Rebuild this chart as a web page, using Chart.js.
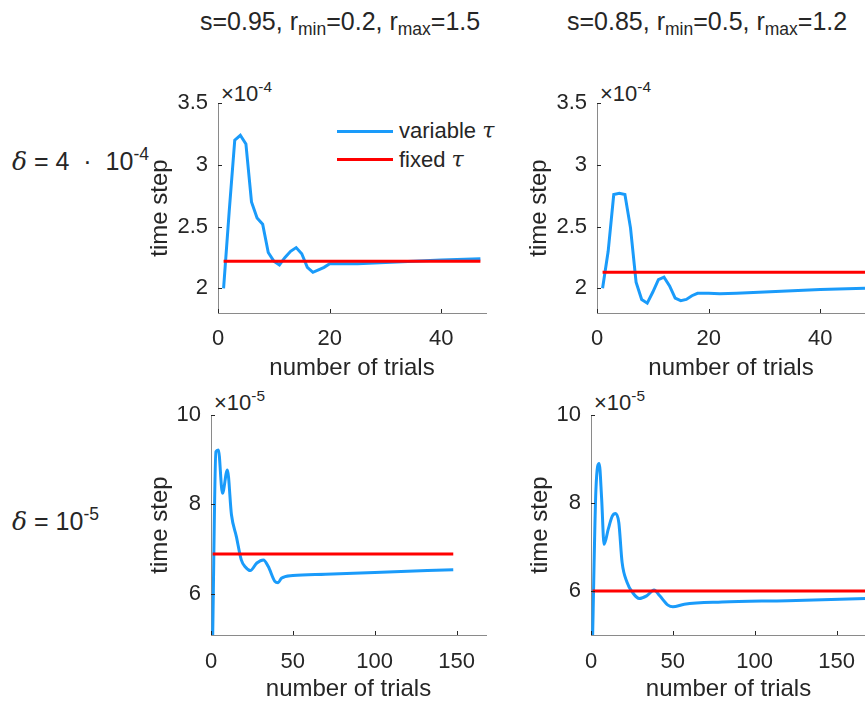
<!DOCTYPE html>
<html>
<head>
<meta charset="utf-8">
<script src="https://cdn.jsdelivr.net/npm/chart.js@4/dist/chart.umd.min.js"></script>
<style>
  html, body { margin: 0; padding: 0; overflow: hidden; }
  body { width: 865px; height: 703px; position: relative; background: #fff;
         font-family: "Liberation Sans", Arial, sans-serif; color: #262626; }
  canvas { position: absolute; }
  .t { position: absolute; white-space: nowrap; line-height: 22px; font-size: 22px; }
  .big { font-size: 25px; }
  sup, sub { font-size: 70%; position: relative; vertical-align: baseline; }
  sup { top: -0.6em; }
  sub { top: 0.3em; }
  .tex { font-family: "DejaVu Serif", serif; font-style: italic; }
  .leg { position: absolute; height: 3px; }
</style>
</head>
<body>

<div class="t big" style="left:200px;top:10px">s=0.95, r<sub>min</sub>=0.2, r<sub>max</sub>=1.5</div>
<div class="t big" style="left:567px;top:10px">s=0.85, r<sub>min</sub>=0.5, r<sub>max</sub>=1.2</div>
<div class="t big" style="left:12px;top:150px"><span class="tex">δ</span> = 4 &nbsp;·&nbsp; 10<sup>-4</sup></div>
<div class="t big" style="left:12px;top:510px"><span class="tex">δ</span> = 10<sup>-5</sup></div>

<div class="t" style="left:221px;top:83px">×10<sup>-4</sup></div>
<div class="t" style="left:600px;top:83px">×10<sup>-4</sup></div>
<div class="t" style="left:214px;top:392px">×10<sup>-5</sup></div>
<div class="t" style="left:594px;top:392px">×10<sup>-5</sup></div>

<div class="leg" style="left:337px;top:130px;width:56px;background:#1a9bfa"></div>
<div class="t" style="left:399px;top:120px">variable <span class="tex">τ</span></div>
<div class="leg" style="left:337px;top:158px;width:56px;background:#ff0000"></div>
<div class="t" style="left:399px;top:149px">fixed <span class="tex">τ</span></div>

<canvas id="c1" width="360" height="303" style="left:140px;top:80px"></canvas>
<canvas id="c2" width="360" height="303" style="left:519px;top:80px"></canvas>
<canvas id="c3" width="360" height="314" style="left:140px;top:390px"></canvas>
<canvas id="c4" width="360" height="314" style="left:520px;top:390px"></canvas>

<script>
// top row, delta = 4e-4 (values in units of 1e-4)
const tlX = [1, 2, 3, 4, 5, 6, 7, 8, 9, 10, 11, 12, 13, 14, 15, 16, 17, 18, 19, 20, 22, 25, 30, 35, 40, 47];
const tlY = [2.00, 2.62, 3.20, 3.24, 3.17, 2.70, 2.57, 2.52, 2.29, 2.22, 2.19, 2.25, 2.30, 2.33, 2.28, 2.17, 2.13, 2.15, 2.17, 2.20, 2.20, 2.20, 2.21, 2.22, 2.23, 2.24];
const tlFixed = 2.22;
const tlEnd = 47;

const trX = [1, 2, 3, 4, 5, 6, 7, 8, 9, 10, 11, 12, 13, 14, 15, 16, 17, 18, 20, 22, 25, 30, 35, 40, 48];
const trY = [2.00, 2.30, 2.76, 2.77, 2.76, 2.49, 2.05, 1.91, 1.88, 1.97, 2.07, 2.09, 2.02, 1.92, 1.90, 1.91, 1.94, 1.96, 1.96, 1.955, 1.96, 1.97, 1.98, 1.99, 2.00];
const trFixed = 2.13;
const trEnd = 48;

// bottom row, delta = 1e-5 (values in units of 1e-5)
const blX = [1, 3, 4.5, 7, 10, 12.5, 15.5, 18.5, 21, 24, 28, 32, 35, 39, 41, 43, 50, 70, 100, 148];
const blY = [5.0, 9.18, 9.22, 8.25, 8.77, 7.77, 7.28, 6.76, 6.60, 6.52, 6.69, 6.76, 6.61, 6.28, 6.25, 6.35, 6.41, 6.44, 6.48, 6.54];
const blFixed = 6.89;
const blEnd = 148;

const brX = [1, 3, 5, 6.5, 8, 10.5, 13, 15, 17, 19, 22, 25.5, 29.5, 34, 38.5, 42, 47, 50, 57, 80, 120, 168];
const brY = [5.0, 8.3, 8.90, 8.1, 7.06, 7.40, 7.70, 7.76, 7.55, 6.65, 6.20, 5.96, 5.83, 5.89, 6.02, 5.89, 5.68, 5.64, 5.70, 5.75, 5.78, 5.83];
const brFixed = 6.0;
const brEnd = 168;

const topXTicks = [0, 20, 40];
const topYTicks = [2, 2.5, 3, 3.5];
const botXTicks = [0, 50, 100, 150];
const botYTicks = [6, 8, 10];

const BLUE = '#1a9bfa';
const RED = '#ff0000';
const FONT = "'Liberation Sans', Arial, sans-serif";

const inwardTicks = {
  id: 'inwardTicks',
  afterDatasetsDraw(chart) {
    const { ctx, chartArea: a, scales: { x, y } } = chart;
    ctx.save();
    ctx.strokeStyle = '#262626';
    ctx.lineWidth = 1;
    ctx.beginPath();
    x.ticks.forEach(t => {
      const px = Math.round(x.getPixelForValue(t.value)) + 0.5;
      ctx.moveTo(px, a.bottom); ctx.lineTo(px, a.bottom - 4);
    });
    y.ticks.forEach(t => {
      const py = Math.round(y.getPixelForValue(t.value)) + 0.5;
      ctx.moveTo(a.left, py); ctx.lineTo(a.left + 4, py);
    });
    ctx.stroke();
    ctx.restore();
  }
};

function makeChart(id, xs, ys, fixed, end, o) {
  const variable = xs.map((x, i) => ({ x, y: ys[i] }));
  const fixedLine = [{ x: 1, y: fixed }, { x: end, y: fixed }];
  return new Chart(document.getElementById(id), {
    type: 'line',
    data: {
      datasets: [
        { label: 'variable', data: variable, borderColor: BLUE, borderWidth: 3, pointRadius: 0,
          cubicInterpolationMode: o.smooth ? 'monotone' : 'default', tension: 0, order: 1 },
        { label: 'fixed', data: fixedLine, borderColor: RED, borderWidth: 3, pointRadius: 0, order: 0 }
      ]
    },
    options: {
      responsive: false,
      animation: false,
      devicePixelRatio: 1,
      layout: { padding: { top: o.padTop, right: 14, left: 0, bottom: 0 } },
      plugins: { legend: { display: false }, tooltip: { enabled: false } },
      scales: {
        x: {
          type: 'linear', min: 0, max: o.xMax,
          afterFit: s => { s.height = o.xH; },
          afterBuildTicks: s => { s.ticks = o.xTicks.map(v => ({ value: v })); },
          grid: { display: false, drawTicks: false },
          border: { display: true, color: '#8a8a8a', width: 1 },
          ticks: { padding: o.xPad, color: '#262626', font: { family: FONT, size: 22 }, maxRotation: 0,
                   callback: v => String(v) },
          title: { display: true, text: 'number of trials', color: '#262626',
                   font: { family: FONT, size: 24 }, padding: { top: 0, bottom: 0 } }
        },
        y: {
          type: 'linear', min: o.yMin, max: o.yMax,
          afterFit: s => { s.width = o.yW; },
          afterBuildTicks: s => { s.ticks = o.yTicks.map(v => ({ value: v })); },
          grid: { display: false, drawTicks: false },
          border: { display: true, color: '#8a8a8a', width: 1 },
          ticks: { padding: 10, color: '#262626', font: { family: FONT, size: 22 },
                   callback: v => String(v) },
          title: { display: true, text: 'time step', color: '#262626',
                   font: { family: FONT, size: 24 }, padding: { top: 6, bottom: 0 } }
        }
      }
    },
    plugins: [inwardTicks]
  });
}

const topOpts = { xMax: 48, yMin: 1.8, yMax: 3.5, xTicks: topXTicks, yTicks: topYTicks,
                  padTop: 23, xH: 70, yW: 78, xPad: 13, smooth: false };
const botOpts = { xMax: 168, yMin: 5.08, yMax: 10, xTicks: botXTicks, yTicks: botYTicks,
                  padTop: 25, xH: 69, yW: 71, xPad: 14, smooth: true };

makeChart('c1', tlX, tlY, tlFixed, tlEnd, topOpts);
makeChart('c2', trX, trY, trFixed, trEnd, topOpts);
makeChart('c3', blX, blY, blFixed, blEnd, botOpts);
makeChart('c4', brX, brY, brFixed, brEnd, Object.assign({}, botOpts, { yMin: 5.0 }));
</script>
</body>
</html>
